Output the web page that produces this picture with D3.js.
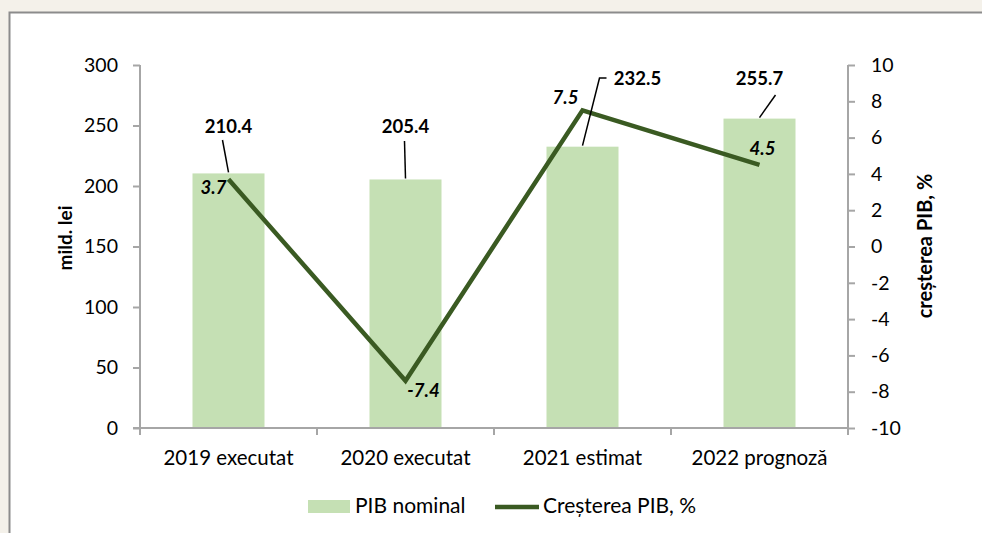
<html>
<head>
<script src="https://d3js.org/d3.v7.min.js"></script>
<style>
html, body { margin:0; background:white; overflow:hidden; }
svg { display:block; }
text { font-family: Lato, "Open Sans", sans-serif; }
</style>
</head>
<body>
<script>
//DATA
var categories = ["2019 executat", "2020 executat", "2021 estimat", "2022 prognoză"];
var pibNominal = [210.4, 205.4, 232.5, 255.7];
var cresterePib = [3.7, -7.4, 7.5, 4.5];
var leftTicks = [0, 50, 100, 150, 200, 250, 300];
var rightTicks = [-10, -8, -6, -4, -2, 0, 2, 4, 6, 8, 10];

var W = 982, H = 533;
var svg = d3.select("body").append("svg")
   .attr("width", W).attr("height", H);

//background + frame
svg.append("rect").attr("width", W).attr("height", H).attr("fill", "#f4f1ea");
svg.append("rect")
   .attr("x", 9.5).attr("y", 12.5)
   .attr("width", W + 20).attr("height", H + 20)
   .attr("fill", "white")
   .attr("stroke", "#8c8c8c").attr("stroke-width", 2);

var x0 = 140, x1 = 848, yTop = 65, yBot = 428;

var x = d3.scaleBand().domain(categories).range([x0, x1]);
var yL = d3.scaleLinear().domain([0, 300]).range([yBot, yTop]);
var yR = d3.scaleLinear().domain([-10, 10]).range([yBot, yTop]);

//bars
var barW = 72;
svg.selectAll("rect.bar").data(pibNominal).enter().append("rect")
   .attr("class", "bar")
   .attr("x", function(d, i) { return x(categories[i]) + x.bandwidth()/2 - barW/2 })
   .attr("y", function(d) { return yL(d) })
   .attr("width", barW)
   .attr("height", function(d) { return yBot - yL(d) })
   .attr("fill", "#c5e0b4");

//axes
var axisCol = "#a6a6a6";
var gL = svg.append("g").attr("transform", "translate(" + x0 + ",0)")
   .call(d3.axisLeft(yL).tickValues(leftTicks).tickSize(7).tickPadding(15).tickFormat(String));
var gR = svg.append("g").attr("transform", "translate(" + x1 + ",0)")
   .call(d3.axisRight(yR).tickValues(rightTicks).tickSize(7).tickPadding(16).tickFormat(String));
var gB = svg.append("g").attr("transform", "translate(0," + yBot + ")")
   .call(d3.axisBottom(x).tickSize(0).tickPadding(22));

[gL, gR, gB].forEach(function(g) {
	g.select(".domain").attr("stroke", axisCol).attr("stroke-width", 2);
	g.selectAll(".tick line").attr("stroke", axisCol).attr("stroke-width", 2);
	g.selectAll("text").attr("fill", "black").style("font-size", "19.5px")
	   .style("font-family", "Lato, sans-serif");
});
gB.selectAll("text").style("font-size", "20.5px");
gL.select(".domain").attr("d", "M0," + yTop + "H0V" + yBot);
gR.select(".domain").attr("d", "M0," + yTop + "H0V" + yBot);
gB.select(".domain").attr("d", "M" + (x0 - 7) + ",0H" + x1);
//category boundary ticks
var bounds = categories.map(function(c) { return x(c) }).concat([x1]);
svg.selectAll("line.btick").data(bounds).enter().append("line")
   .attr("x1", function(d) { return d }).attr("x2", function(d) { return d })
   .attr("y1", yBot).attr("y2", yBot + 7)
   .attr("stroke", axisCol).attr("stroke-width", 2);

//axis titles
svg.append("text")
   .attr("transform", "translate(72,238) rotate(-90)")
   .attr("text-anchor", "middle")
   .style("font-size", "19px").style("font-weight", "bold")
   .text("mild. lei");
svg.append("text")
   .attr("transform", "translate(932,246) rotate(-90)")
   .attr("text-anchor", "middle")
   .style("font-size", "20px").style("font-weight", "bold")
   .text("creșterea PIB, %");

//line
var cx = function(i) { return x(categories[i]) + x.bandwidth()/2 };
var line = d3.line()
   .x(function(d, i) { return cx(i) })
   .y(function(d) { return yR(d) });
svg.append("path").datum(cresterePib)
   .attr("d", line)
   .attr("fill", "none")
   .attr("stroke", "#3a5a22")
   .attr("stroke-width", 4.5)
   .attr("stroke-linejoin", "miter");

//bar labels with leader lines
var barLab = [
	{dx: 0, ty: 133, lx1: -6, ly1: 140},
	{dx: 0, ty: 133, lx1: -1, ly1: 141},
	{dx: 55, ty: 85, lx1: 17, ly1: 78, hook: 24},
	{dx: 0, ty: 85, lx1: 16, ly1: 95}
];
pibNominal.forEach(function(v, i) {
	var b = barLab[i];
	svg.append("text")
	   .attr("x", cx(i) + b.dx).attr("y", b.ty)
	   .attr("text-anchor", "middle")
	   .style("font-size", "18.5px").style("font-weight", "bold")
	   .text(v.toFixed(1));
	var p = "M" + (cx(i) + b.lx1) + "," + b.ly1 + "L" + cx(i) + "," + (yL(v) - 1);
	if (b.hook) p = "M" + (cx(i) + b.hook) + "," + b.ly1 + "H" + (cx(i) + b.lx1) + "L" + cx(i) + "," + (yL(v) - 1);
	svg.append("path").attr("d", p)
	   .attr("fill", "none").attr("stroke", "black").attr("stroke-width", 1.5);
});

//line labels
var lineLab = [[-15, 15], [18, 16], [-17, -6], [3, -10]];
cresterePib.forEach(function(v, i) {
	svg.append("text")
	   .attr("x", cx(i) + lineLab[i][0]).attr("y", yR(v) + lineLab[i][1])
	   .attr("text-anchor", "middle")
	   .style("font-size", "18.5px").style("font-weight", "bold").style("font-style", "italic")
	   .text(v.toFixed(1));
});

//legend
var lg = svg.append("g");
lg.append("rect").attr("x", 308).attr("y", 500).attr("width", 42).attr("height", 13).attr("fill", "#c5e0b4");
lg.append("text").attr("x", 355).attr("y", 513).style("font-size", "21px").text("PIB nominal");
lg.append("line").attr("x1", 495).attr("x2", 539).attr("y1", 507).attr("y2", 507)
   .attr("stroke", "#3a5a22").attr("stroke-width", 4.5);
lg.append("text").attr("x", 543).attr("y", 513).style("font-size", "21px").text("Creșterea PIB, %");
</script>
</body>
</html>
